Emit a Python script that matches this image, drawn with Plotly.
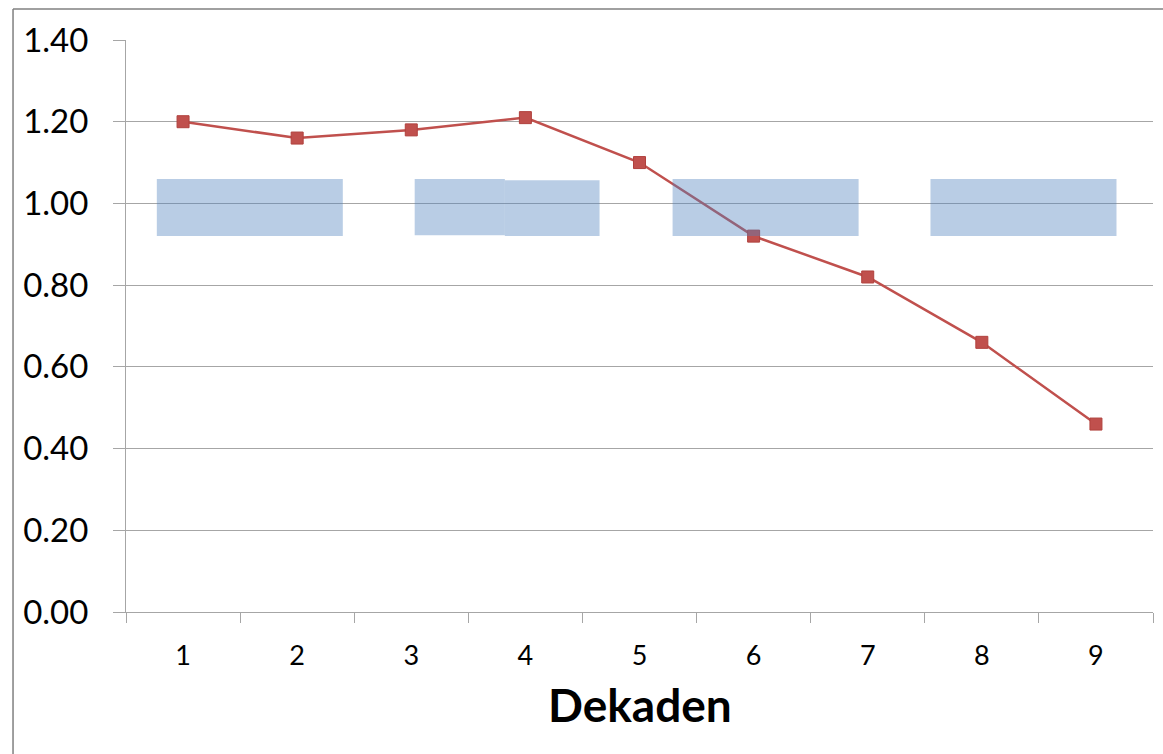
import plotly.graph_objects as go

# Decade index and the ratio series plotted as a red line
decades = ["1", "2", "3", "4", "5", "6", "7", "8", "9"]
ratio = [1.20, 1.16, 1.18, 1.21, 1.10, 0.92, 0.82, 0.66, 0.46]

# Translucent reference bands around 1.00 (extent in decade units)
band_start = [0.77, 3.03, 3.82, 5.29, 7.55]
band_end = [2.40, 3.82, 4.65, 6.92, 9.18]
band_low = [0.92, 0.922, 0.92, 0.92, 0.92]
band_high = [1.06, 1.06, 1.057, 1.06, 1.06]

y_ticks = [0.0, 0.2, 0.4, 0.6, 0.8, 1.0, 1.2, 1.4]
y_tick_text = ["0.00", "0.20", "0.40", "0.60", "0.80", "1.00", "1.20", "1.40"]

LINE_RED = "#C0504D"
AXIS_GREY = "#A6A6A6"
FONT = "Lato, Open Sans, sans-serif"

fig = go.Figure()
fig.add_trace(go.Scatter(
    x=decades, y=ratio, mode="lines+markers",
    line=dict(color=LINE_RED, width=2.5),
    marker=dict(symbol="square", size=12, color=LINE_RED,
                line=dict(color="#B0403D", width=1)),
    showlegend=False, hoverinfo="skip",
))

shapes = []
for x0, x1, lo, hi in zip(band_start, band_end, band_low, band_high):
    # category axis positions are zero-based
    shapes.append(dict(
        type="rect", xref="x", yref="y",
        x0=x0 - 1, x1=x1 - 1, y0=lo, y1=hi,
        fillcolor="rgba(79,129,189,0.40)", line=dict(width=0),
        layer="above",
    ))

# Frame lines along the top and left of the picture
frame_col = "#808080"
shapes.append(dict(type="line", xref="paper", yref="paper",
                   x0=-0.110, x1=1.02, y0=1.0542, y1=1.0542,
                   line=dict(color=frame_col, width=1.5)))
shapes.append(dict(type="line", xref="paper", yref="paper",
                   x0=-0.110, x1=-0.110, y0=1.0542, y1=-0.26,
                   line=dict(color=frame_col, width=1.5)))

fig.update_layout(
    width=1163, height=754,
    margin=dict(l=126, r=10, t=40, b=142),
    paper_bgcolor="white", plot_bgcolor="white",
    shapes=shapes,
    annotations=[dict(
        text="<b>Dekaden</b>", xref="paper", yref="paper",
        x=0.5, y=-0.161, xanchor="center", yanchor="middle",
        showarrow=False, font=dict(family=FONT, size=46, color="black"),
    )],
)

fig.update_xaxes(
    type="category", categoryorder="array", categoryarray=decades,
    range=[-0.5, 8.5],
    showgrid=False, showline=True, linecolor=AXIS_GREY, linewidth=1,
    ticks="outside", tickson="boundaries", ticklen=10, tickcolor=AXIS_GREY,
    tickfont=dict(family=FONT, size=27, color="black"),
    ticklabelstandoff=20,
)
fig.update_yaxes(
    range=[0, 1.4], tickvals=y_ticks, ticktext=y_tick_text,
    showgrid=True, gridcolor=AXIS_GREY, gridwidth=1,
    showline=True, linecolor=AXIS_GREY, linewidth=1,
    ticks="outside", ticklen=12, tickcolor=AXIS_GREY,
    tickfont=dict(family=FONT, size=33, color="black"),
    ticklabelstandoff=18, zeroline=False,
)

fig.write_html("out.html")
